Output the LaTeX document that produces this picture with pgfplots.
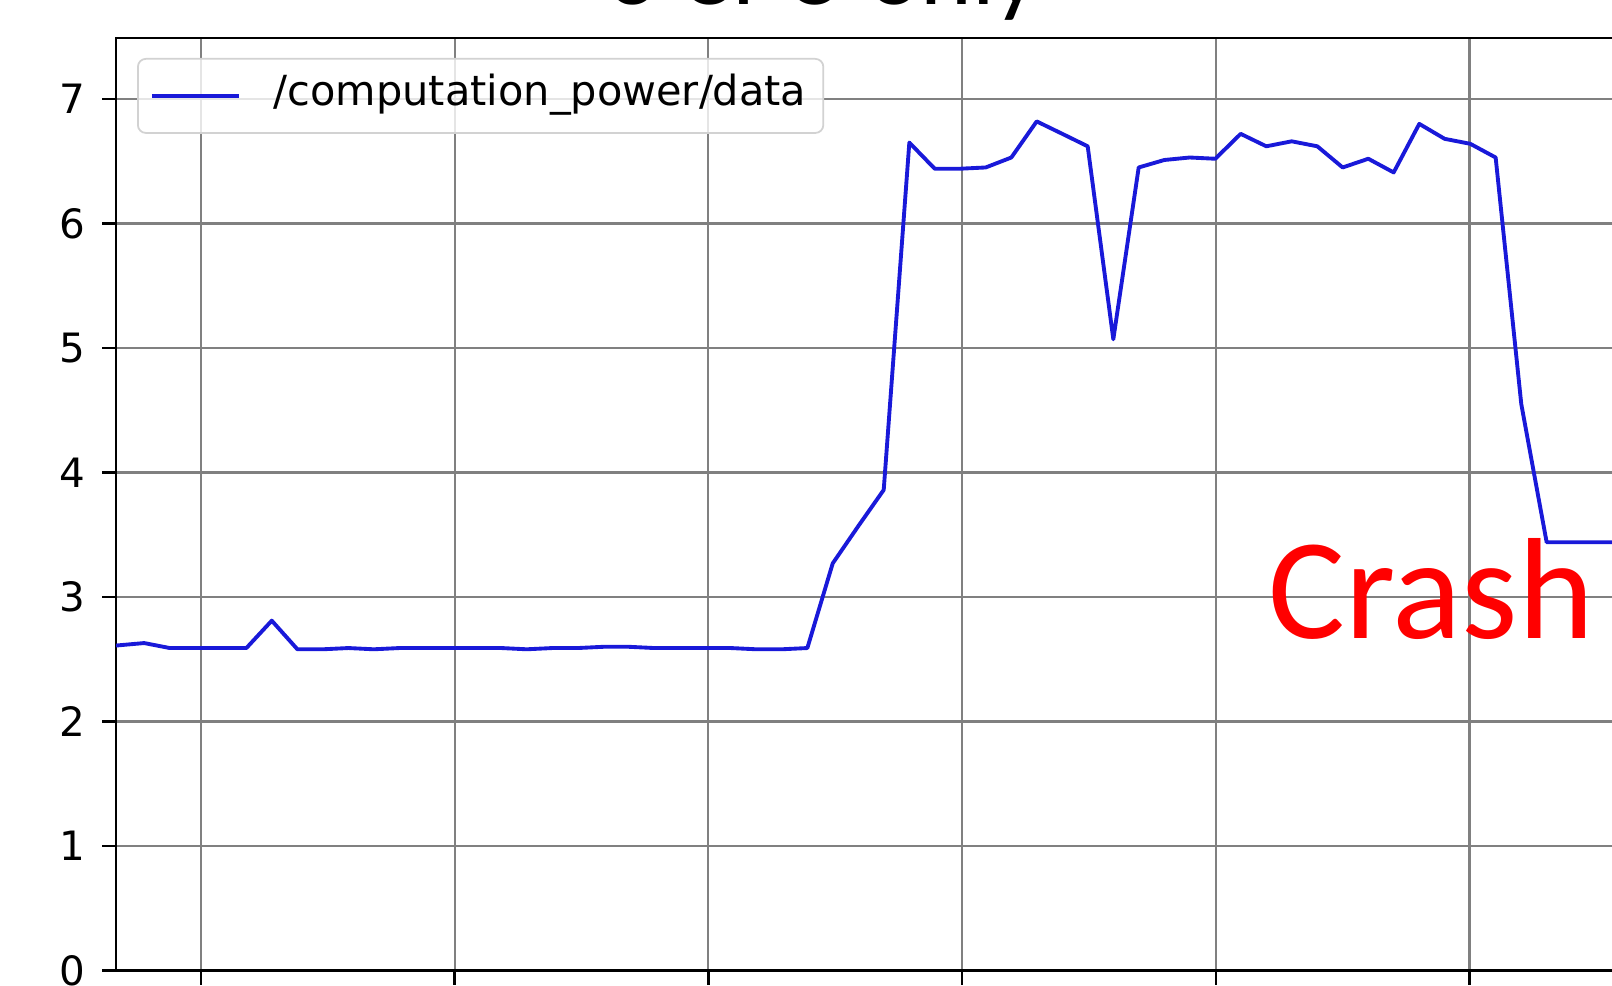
\documentclass[border=0pt]{standalone}
\usepackage{pgfplots}
\pgfplotsset{compat=1.18}
\usepackage{fontspec}
\setmainfont{DejaVu Sans}
\newfontfamily\calibri{Carlito}
\definecolor{lineblue}{rgb}{0.1,0.1,0.85}
\begin{document}
\begin{tikzpicture}
\useasboundingbox (0,0) rectangle (16.12,9.85);
\clip (0,0) rectangle (16.12,9.85);
\begin{axis}[
  at={(1.16cm,0.145cm)}, anchor=south west,
  scale only axis, width=16.833cm, height=9.325cm,
  xmin=-0.335, xmax=6.3, ymin=0, ymax=7.49,
  xtick={0,1,2,3,4,5,6}, xticklabels={},
  ytick={0,1,2,3,4,5,6,7},
  xtick pos=bottom, ytick pos=left,
  tick align=outside, major tick length=0.14cm,
  tick style={black, line width=0.7pt},
  axis line style={black, line width=0.8pt},
  grid=major, grid style={gray, line width=0.6pt},
  /pgf/number format/assume math mode=true,
  yticklabel style={font=\fontsize{11.5}{13}\selectfont, text=black, xshift=-0.04cm},
  legend style={at={(0,1)}, anchor=north west, xshift=0.21cm, yshift=-0.2cm,
    draw=gray!35, line width=0.5pt, rounded corners=0.08cm,
    fill=white, fill opacity=0.8, text opacity=1, draw opacity=1,
    inner xsep=0.12cm, inner ysep=0.15cm,
    /tikz/column sep=0.28cm,
    font=\fontsize{11.8}{13}\selectfont,
    nodes={inner sep=0.05cm, text height=0.75em, text depth=0.22em}},
  legend image code/.code={\draw[#1] (0cm,0cm) -- (0.87cm,0cm);},
  legend cell align=left,
]
\addplot[color=lineblue, line width=1.1pt, line join=round] coordinates {
(-0.335,2.61) (-0.224,2.63) (-0.123,2.59) (-0.022,2.59) (0.078,2.59)
(0.179,2.59) (0.279,2.81) (0.380,2.58) (0.480,2.58) (0.581,2.59)
(0.681,2.58) (0.782,2.59) (0.882,2.59) (0.983,2.59) (1.083,2.59)
(1.184,2.59) (1.284,2.58) (1.385,2.59) (1.485,2.59) (1.586,2.60)
(1.686,2.60) (1.787,2.59) (1.887,2.59) (1.988,2.59) (2.088,2.59)
(2.189,2.58) (2.289,2.58) (2.390,2.59) (2.490,3.27) (2.591,3.57)
(2.691,3.86) (2.792,6.65) (2.892,6.44) (2.993,6.44) (3.093,6.45)
(3.194,6.53) (3.294,6.82) (3.395,6.72) (3.495,6.62) (3.596,5.07)
(3.696,6.45) (3.797,6.51) (3.897,6.53) (3.998,6.52) (4.098,6.72)
(4.199,6.62) (4.299,6.66) (4.400,6.62) (4.500,6.45) (4.601,6.52)
(4.701,6.41) (4.802,6.80) (4.902,6.68) (5.003,6.64) (5.103,6.53)
(5.204,4.55) (5.304,3.44) (5.405,3.44) (5.505,3.44) (5.606,3.44)
(5.706,3.44) (5.807,3.44) (5.907,3.44) (6.008,3.44)
};
\addlegendentry{/computation\_power/data}
\end{axis}
\node[anchor=base west, inner sep=0pt, font=\calibri\fontsize{28}{30}\selectfont] at (6.07,9.80) {3 CPU only};
\node[anchor=base west, inner sep=0pt, text=red, font=\calibri\fontsize{41}{44}\selectfont] at (12.68,3.46) {Crash};
\end{tikzpicture}
\end{document}
